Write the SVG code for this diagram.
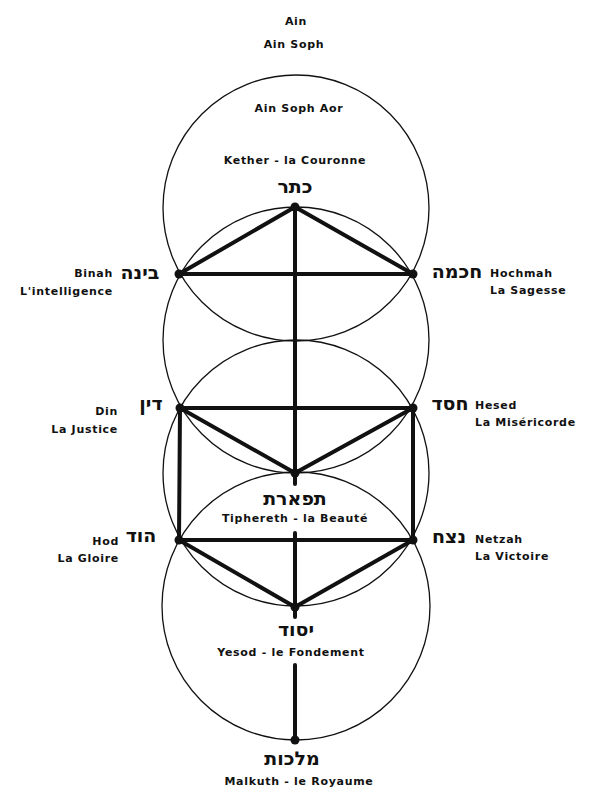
<svg xmlns="http://www.w3.org/2000/svg" width="590" height="807" viewBox="0 0 590 807">
<style>
.lbl{font-family:"DejaVu Sans","Liberation Sans",sans-serif;font-weight:bold;font-size:11px;letter-spacing:0.7px;fill:#111}
.heb{font-family:"DejaVu Sans","Liberation Sans",sans-serif;font-weight:bold;font-size:19px;fill:#111}
.c{text-anchor:middle}
.r{text-anchor:end}
.circ{fill:none;stroke:#111;stroke-width:1.3}
.path{stroke:#111;stroke-width:4;stroke-linecap:round;fill:none}
.dot{fill:#111}
</style>
<rect width="590" height="807" fill="#fff"/>
<g id="circles">
<circle class="circ" cx="296" cy="208" r="133"/>
<circle class="circ" cx="296" cy="340" r="133"/>
<circle class="circ" cx="296" cy="473" r="133"/>
<circle class="circ" cx="296" cy="606" r="134"/>
</g>
<g id="connectors">
<line class="path" x1="295" y1="207" x2="179" y2="274"/>
<line class="path" x1="295" y1="207" x2="413" y2="274"/>
<line class="path" x1="179" y1="274" x2="413" y2="274"/>
<line class="path" x1="295" y1="207" x2="295" y2="484"/>
<line class="path" x1="180" y1="408" x2="413" y2="408"/>
<line class="path" x1="180" y1="408" x2="295" y2="473"/>
<line class="path" x1="413" y1="408" x2="295" y2="473"/>
<line class="path" x1="180" y1="408" x2="179" y2="540"/>
<line class="path" x1="413" y1="408" x2="413" y2="540"/>
<line class="path" x1="179" y1="540" x2="413" y2="540"/>
<line class="path" x1="179" y1="540" x2="295" y2="607"/>
<line class="path" x1="413" y1="540" x2="295" y2="607"/>
<line class="path" x1="295" y1="533" x2="295" y2="617"/>
<line class="path" x1="295" y1="665" x2="295" y2="740"/>
</g>
<g id="top">
<text class="lbl c" x="296" y="25">Ain</text>
<text class="lbl c" x="294" y="48">Ain Soph</text>
<text class="lbl c" x="299" y="112">Ain Soph Aor</text>
</g>
<g id="kether">
<circle class="dot" cx="295" cy="207" r="4.5"/>
<text class="lbl c" x="295" y="164">Kether - la Couronne</text>
<text class="heb c" x="295" y="193">כתר</text>
</g>
<g id="binah">
<circle class="dot" cx="179" cy="274" r="4.5"/>
<text class="heb c" x="140" y="279">בינה</text>
<text class="lbl r" x="113" y="277">Binah</text>
<text class="lbl r" x="113" y="295">L'intelligence</text>
</g>
<g id="hochmah">
<circle class="dot" cx="413" cy="274" r="4.5"/>
<text class="heb c" x="457" y="278">חכמה</text>
<text class="lbl" x="490" y="277">Hochmah</text>
<text class="lbl" x="490" y="294">La Sagesse</text>
</g>
<g id="din">
<circle class="dot" cx="180" cy="408" r="4.5"/>
<text class="heb c" x="151" y="410">דין</text>
<text class="lbl r" x="118" y="415">Din</text>
<text class="lbl r" x="118" y="433">La Justice</text>
</g>
<g id="hesed">
<circle class="dot" cx="413" cy="408" r="4.5"/>
<text class="heb c" x="450" y="410">חסד</text>
<text class="lbl" x="475" y="409">Hesed</text>
<text class="lbl" x="475" y="426">La Miséricorde</text>
</g>
<g id="tiphereth">
<circle class="dot" cx="295" cy="473" r="4.5"/>
<text class="heb c" x="295" y="505">תפארת</text>
<text class="lbl c" x="295" y="522">Tiphereth - la Beauté</text>
</g>
<g id="hod">
<circle class="dot" cx="179" cy="540" r="4.5"/>
<text class="heb c" x="141" y="542">הוד</text>
<text class="lbl r" x="119" y="545">Hod</text>
<text class="lbl r" x="119" y="562">La Gloire</text>
</g>
<g id="netzah">
<circle class="dot" cx="413" cy="540" r="4.5"/>
<text class="heb c" x="449" y="543">נצח</text>
<text class="lbl" x="475" y="543">Netzah</text>
<text class="lbl" x="475" y="560">La Victoire</text>
</g>
<g id="yesod">
<circle class="dot" cx="295" cy="607" r="4.5"/>
<text class="heb c" x="296" y="636">יסוד</text>
<text class="lbl c" x="291" y="656">Yesod - le Fondement</text>
</g>
<g id="malkuth">
<circle class="dot" cx="295" cy="740" r="4.5"/>
<text class="heb c" x="292" y="765">מלכות</text>
<text class="lbl c" x="299" y="785">Malkuth - le Royaume</text>
</g>
</svg>
